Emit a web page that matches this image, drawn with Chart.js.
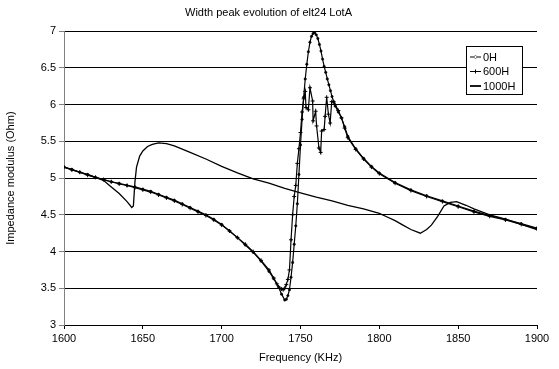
<!DOCTYPE html>
<html>
<head>
<meta charset="utf-8">
<script src="https://cdn.jsdelivr.net/npm/chart.js@4.4.1/dist/chart.umd.min.js"></script>
<style>
  html, body { margin: 0; padding: 0; background: #fff; }
  #wrap { width: 559px; height: 369px; }
</style>
</head>
<body>
<div id="wrap"><canvas id="impChart" width="559" height="369"></canvas></div>
<script>
// Frequencies (KHz) and impedance values (Ohm)
const freq0H = [1600, 1605, 1610, 1615, 1620, 1625, 1630, 1635, 1640, 1645, 1650, 1655, 1660, 1665, 1670, 1675, 1680, 1685, 1690, 1695,
  1700, 1705, 1710, 1715, 1720, 1725, 1730, 1733, 1736, 1738, 1740, 1741, 1742, 1743, 1744, 1745, 1746, 1747, 1748, 1749,
  1750, 1751, 1752, 1753, 1754, 1755, 1756, 1757, 1758, 1759, 1760, 1761, 1762, 1763, 1764, 1765, 1766, 1767, 1768, 1769,
  1770, 1771, 1772, 1774, 1776, 1778, 1780, 1785, 1790, 1795, 1800, 1810, 1820, 1830, 1840, 1850, 1860, 1870, 1880, 1890, 1900];
const imp0H = [5.15, 5.12, 5.08, 5.05, 5.01, 4.98, 4.95, 4.93, 4.90, 4.88, 4.85, 4.82, 4.78, 4.74, 4.70, 4.65, 4.60, 4.55, 4.50, 4.44,
  4.37, 4.28, 4.19, 4.09, 3.99, 3.87, 3.73, 3.63, 3.52, 3.42, 3.34, 3.35, 3.40, 3.48, 3.65, 3.85, 4.10, 4.35, 4.65, 5.05,
  5.45, 5.80, 6.10, 6.35, 6.55, 6.72, 6.85, 6.93, 6.97, 6.98, 6.95, 6.90, 6.82, 6.73, 6.62, 6.52, 6.44, 6.35, 6.27, 6.19,
  6.11, 6.04, 5.98, 5.90, 5.82, 5.70, 5.57, 5.40, 5.27, 5.16, 5.07, 4.94, 4.84, 4.76, 4.69, 4.62, 4.55, 4.49, 4.44, 4.38, 4.32];

const freq600H = [1600, 1605, 1610, 1615, 1620, 1625, 1630, 1635, 1640, 1645, 1650, 1655, 1660, 1665, 1670, 1675, 1680, 1685, 1690, 1695,
  1700, 1705, 1710, 1715, 1720, 1725, 1730, 1733, 1735, 1737, 1738, 1739, 1740, 1741, 1742, 1743, 1744, 1745, 1746, 1747,
  1748, 1749, 1750, 1751, 1752, 1753, 1753.5, 1755, 1756, 1757.7, 1758, 1759.6, 1760.2, 1761.7, 1762.8, 1763.4, 1765, 1765.6, 1766.6, 1767.7,
  1768.8, 1769.8, 1771, 1772, 1774, 1776, 1778, 1780, 1785, 1790, 1795, 1800, 1810, 1820, 1830, 1840, 1850, 1860, 1870, 1880, 1890, 1900];
const imp600H = [5.15, 5.11, 5.08, 5.04, 5.01, 4.98, 4.95, 4.92, 4.90, 4.87, 4.84, 4.81, 4.77, 4.73, 4.69, 4.64, 4.59, 4.54, 4.49, 4.43,
  4.36, 4.28, 4.19, 4.10, 4.00, 3.88, 3.75, 3.64, 3.56, 3.50, 3.49, 3.48, 3.50, 3.55, 3.62, 3.75, 4.16, 4.50, 4.75, 4.90,
  5.20, 5.40, 5.62, 5.90, 6.08, 6.18, 5.96, 5.93, 6.23, 6.05, 5.78, 5.91, 5.71, 5.41, 5.35, 5.64, 5.66, 5.84, 6.10, 5.87,
  5.75, 6.04, 6.04, 6.00, 5.92, 5.82, 5.68, 5.55, 5.39, 5.26, 5.15, 5.06, 4.93, 4.83, 4.75, 4.68, 4.61, 4.54, 4.48, 4.43, 4.37, 4.31];

const freq1000H = [1600, 1610, 1620, 1625, 1630, 1635, 1640, 1643, 1644, 1645, 1646, 1648, 1650, 1653, 1656, 1660, 1665, 1670, 1680, 1690,
  1700, 1710, 1720, 1730, 1740, 1750, 1760, 1770, 1780, 1790, 1800, 1805, 1810, 1815, 1820, 1826, 1830, 1833, 1837, 1841,
  1845, 1849, 1855, 1860, 1870, 1880, 1890, 1900];
const imp1000H = [5.15, 5.08, 5.01, 4.97, 4.88, 4.79, 4.68, 4.60, 4.62, 4.95, 5.15, 5.30, 5.37, 5.43, 5.46, 5.48, 5.47, 5.44, 5.35, 5.26,
  5.16, 5.07, 4.99, 4.93, 4.86, 4.80, 4.74, 4.69, 4.63, 4.58, 4.52, 4.47, 4.42, 4.36, 4.30, 4.25, 4.30, 4.36, 4.48, 4.62,
  4.67, 4.68, 4.63, 4.58, 4.50, 4.44, 4.37, 4.30];

const seriesNames = ['0H', '600H', '1000H'];

function toPoints(xs, ys) {
  return xs.map((x, i) => ({ x: x, y: ys[i] }));
}

// legend drawn inside the plot, like the original
const boxLegend = {
  id: 'boxLegend',
  afterDraw(chart) {
    const ctx = chart.ctx;
    const x0 = 466, y0 = 46, w = 56, h = 48;
    ctx.save();
    ctx.fillStyle = '#fff';
    ctx.fillRect(x0, y0, w, h);
    ctx.strokeStyle = '#000';
    ctx.lineWidth = 1;
    ctx.strokeRect(x0 + 0.5, y0 + 0.5, w, h);
    ctx.font = '11px "Liberation Sans", Arial, sans-serif';
    ctx.textBaseline = 'middle';
    chart.data.datasets.forEach((ds, i) => {
      const y = y0 + 11 + i * 14.5;
      ctx.strokeStyle = '#000';
      ctx.lineWidth = i === 2 ? 1.8 : 1;
      ctx.beginPath();
      ctx.moveTo(x0 + 4, y);
      ctx.lineTo(x0 + 15, y);
      ctx.stroke();
      if (ds.pointRadius > 0) {
        ctx.lineWidth = 1;
        Chart.helpers.drawPoint(ctx, {
          pointStyle: ds.pointStyle, radius: ds.pointRadius, borderWidth: 1
        }, x0 + 9.5, y);
        ctx.fill();
      }
      ctx.fillStyle = '#000';
      ctx.fillText(ds.label, x0 + 17, y + 0.5);
    });
    ctx.restore();
  }
};

const canvas = document.getElementById('impChart');
const ctx = canvas.getContext('2d');

const impChart = new Chart(ctx, {
  type: 'line',
  data: {
    datasets: [
      {
        label: seriesNames[0],
        data: toPoints(freq0H, imp0H),
        borderColor: '#000',
        backgroundColor: '#000',
        borderWidth: 1.2,
        pointStyle: 'circle',
        pointRadius: 1.2,
        pointBorderWidth: 0.5,
        tension: 0
      },
      {
        label: seriesNames[1],
        data: toPoints(freq600H, imp600H),
        borderColor: '#000',
        backgroundColor: '#000',
        borderWidth: 1.2,
        pointStyle: 'cross',
        pointRadius: 2,
        pointBorderWidth: 1,
        tension: 0
      },
      {
        label: seriesNames[2],
        data: toPoints(freq1000H, imp1000H),
        borderColor: '#000',
        backgroundColor: '#000',
        borderWidth: 1.3,
        pointRadius: 0,
        tension: 0
      }
    ]
  },
  options: {
    responsive: false,
    animation: false,
    layout: { padding: { left: 0, right: 22, top: 0, bottom: 0 } },
    plugins: {
      legend: { display: false },
      tooltip: { enabled: false },
      title: {
        display: true,
        text: 'Width peak evolution of elt24 LotA',
        color: '#000',
        font: { family: '"Liberation Sans", Arial, sans-serif', size: 11, weight: 'normal' },
        padding: { top: 6, bottom: 12 }
      }
    },
    scales: {
      x: {
        type: 'linear',
        min: 1600,
        max: 1900,
        afterFit(scale) { scale.height = 44; },
        ticks: {
          stepSize: 50,
          color: '#000',
          font: { family: '"Liberation Sans", Arial, sans-serif', size: 11 },
          maxRotation: 0,
          padding: 3,
          callback: function (value) { return String(value); }
        },
        grid: { display: true, drawOnChartArea: false, color: '#000', tickLength: 4 },
        border: { color: '#000', width: 1 },
        title: {
          display: true,
          text: 'Frequency (KHz)',
          color: '#000',
          font: { family: '"Liberation Sans", Arial, sans-serif', size: 11 }
        }
      },
      y: {
        min: 3,
        max: 7,
        afterFit(scale) { scale.width = 64; },
        ticks: {
          stepSize: 0.5,
          color: '#000',
          font: { family: '"Liberation Sans", Arial, sans-serif', size: 11 },
          padding: 3,
          callback: function (value) { return String(value); }
        },
        grid: { color: '#000', tickLength: 5, tickColor: '#808080' },
        border: { color: '#808080', width: 1 },
        title: {
          display: true,
          text: 'Impedance modulus (Ohm)',
          color: '#000',
          font: { family: '"Liberation Sans", Arial, sans-serif', size: 11 }
        }
      }
    }
  },
  plugins: [boxLegend]
});
</script>
</body>
</html>
